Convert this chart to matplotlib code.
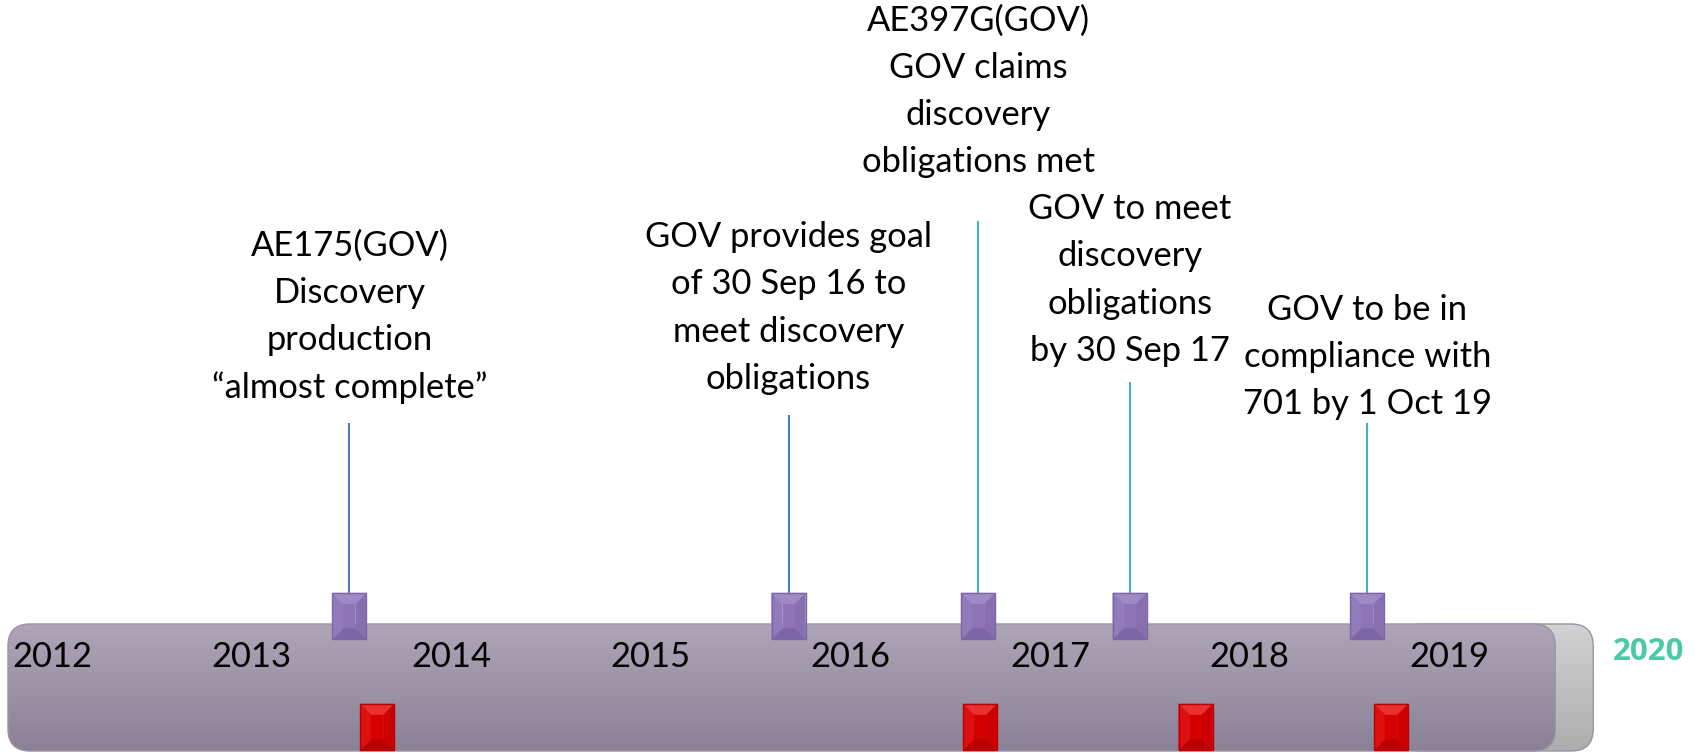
import numpy as np
import matplotlib.pyplot as plt
from matplotlib.patches import FancyBboxPatch, Polygon, Rectangle
from matplotlib.colors import LinearSegmentedColormap

plt.rcParams['font.family'] = ['Lato', 'DejaVu Sans']

years = [2012, 2013, 2014, 2015, 2016, 2017, 2018, 2019]
end_year = 2020

events = [2013.49, 2015.69, 2016.64, 2017.40, 2018.59]
event_text = [
    'AE175(GOV)\nDiscovery\nproduction\n\u201calmost complete\u201d',
    'GOV provides goal\nof 30 Sep 16 to\nmeet discovery\nobligations',
    'AE397G(GOV)\nGOV claims\ndiscovery\nobligations met',
    'GOV to meet\ndiscovery\nobligations\nby 30 Sep 17',
    'GOV to be in\ncompliance with\n701 by 1 Oct 19',
]
red_marks = [2013.63, 2016.65, 2017.73, 2018.71]

# layout, y measured in pixels from the top
text_y = [317, 308, 91, 280, 357]
stem_top = [423, 415, 221, 382, 423]
stem_color = ['#4a7ebb', '#4a7ebb', '#4bacc6', '#4bacc6', '#4bacc6']

W, H = 1702, 754
ppy = 199.6                      # pixels per year
x0 = years[0] - 52 / ppy
x1 = x0 + W / ppy
fs = 24.8

fig = plt.figure(figsize=(W / 100, H / 100), dpi=100)
ax = fig.add_axes([0, 0, 1, 1])


def px(n):
    return n / ppy


def grad_box(left, right, top, bottom, c_top, c_bot, radius, z):
    box = FancyBboxPatch((left, top), right - left, bottom - top,
                         boxstyle='round,pad=0,rounding_size=%f' % px(radius),
                         mutation_aspect=ppy, fc='none', ec='#9b93a3', lw=1, zorder=z + 0.1)
    ax.add_patch(box)
    cmap = LinearSegmentedColormap.from_list('g', [c_top, c_bot])
    im = ax.imshow(np.linspace(0, 1, 256).reshape(-1, 1), cmap=cmap, aspect='auto',
                   extent=(left, right, bottom, top), origin='upper', zorder=z)
    im.set_clip_path(box)


def bevel(xc, yc, w, h, cols, z=5):
    light, left_c, right_c, dark, face, edge = cols
    a, b = xc - px(w / 2), xc + px(w / 2)
    t, u = yc - h / 2, yc + h / 2
    ins = 11
    ia, ib, it, iu = a + px(ins), b - px(ins), t + ins, u - ins
    faces = [
        ([(a, t), (b, t), (ib, it), (ia, it)], light),
        ([(a, u), (b, u), (ib, iu), (ia, iu)], dark),
        ([(a, t), (ia, it), (ia, iu), (a, u)], left_c),
        ([(b, t), (ib, it), (ib, iu), (b, u)], right_c),
        ([(ia, it), (ib, it), (ib, iu), (ia, iu)], face),
    ]
    for pts, c in faces:
        ax.add_patch(Polygon(pts, closed=True, fc=c, ec=c, lw=0.3, zorder=z))
    ax.add_patch(Rectangle((a, t), b - a, u - t, fc='none', ec=edge, lw=1, zorder=z + 0.1))


# timeline bar
bar_top, bar_bot = 624, 751
grad_box(years[-1] - 0.25, years[-1] + px(1593 - 1449), bar_top, bar_bot,
         '#d2d2d2', '#adadad', 22, 1)
grad_box(x0 + px(8), years[-1] + px(1555 - 1449), bar_top, bar_bot,
         '#aea5b8', '#8b8196', 22, 2)

for y in years:
    ax.text(y, 657, str(y), ha='center', va='center', fontsize=fs, color='black', zorder=4)
ax.text(end_year, 652, str(end_year), ha='center', va='center', fontsize=22.5,
        family=['Open Sans', 'DejaVu Sans'], fontweight='bold', color='#4cc9a6', zorder=4)

# stems and labels
ax.vlines(events, stem_top, 593, colors=stem_color, lw=1.5, zorder=3)
for xe, txt, ty in zip(events, event_text, text_y):
    ax.text(xe, ty, txt, ha='center', va='center', multialignment='center',
            fontsize=fs, linespacing=1.58, color='black')

purple = ('#a08ac6', '#927bbb', '#8870b0', '#7d66a6', '#8e75b8', '#7d66a6')
red = ('#ea3030', '#dc1010', '#cc0000', '#b80000', '#d60000', '#bb0000')
for xe in events:
    bevel(xe, 616, 34, 46, purple)
for xr in red_marks:
    bevel(xr, 727, 34, 46, red)

ax.set_xlim(x0, x1)
ax.set_ylim(H, 0)
ax.axis('off')
fig.savefig('out.png', dpi=100)
